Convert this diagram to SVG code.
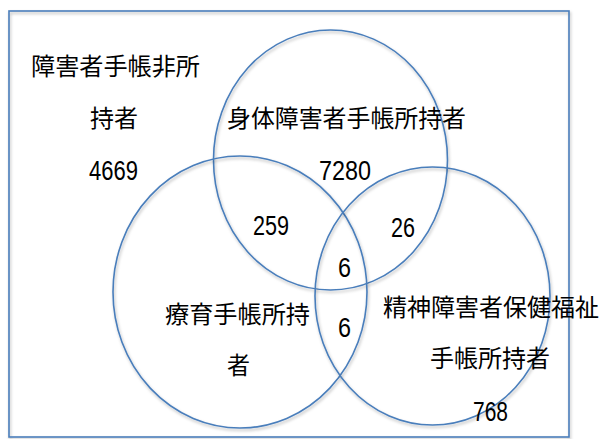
<svg xmlns="http://www.w3.org/2000/svg" width="602" height="439" viewBox="0 0 602 439">
  <defs>
    <filter id="sh" x="-10%" y="-10%" width="120%" height="120%">
      <feDropShadow dx="1" dy="2" stdDeviation="1.5" flood-color="#000" flood-opacity="0.28"/>
    </filter>
  </defs>
  <style>
    .ln { fill: none; stroke: #4a7ebb; stroke-width: 1.6; filter: url(#sh); }
    .jp { font-family: "Noto Sans CJK JP", "Noto Sans CJK SC", sans-serif; font-size: 24px; fill: #000; }
    .num { font-family: "Liberation Sans", Arial, sans-serif; font-size: 28px; fill: #000; }
  </style>
  <rect width="602" height="439" fill="#fff"/>
  <g id="non-holders">
    <rect class="ln" x="9" y="11" width="560" height="426"/>
    <text class="jp" x="31" y="75" textLength="169" lengthAdjust="spacingAndGlyphs">障害者手帳非所</text>
    <text class="jp" x="90" y="127" textLength="48" lengthAdjust="spacingAndGlyphs">持者</text>
    <text class="num" x="89" y="180" textLength="49" lengthAdjust="spacingAndGlyphs">4669</text>
  </g>
  <g id="physical">
    <ellipse class="ln" cx="330.5" cy="160" rx="117" ry="130"/>
    <text class="jp" x="227" y="127" textLength="239" lengthAdjust="spacingAndGlyphs">身体障害者手帳所持者</text>
    <text class="num" x="319" y="180" textLength="52" lengthAdjust="spacingAndGlyphs">7280</text>
  </g>
  <g id="ryoiku">
    <ellipse class="ln" cx="240" cy="292" rx="127" ry="136"/>
    <text class="jp" x="165" y="323" textLength="145" lengthAdjust="spacingAndGlyphs">療育手帳所持</text>
    <text class="jp" x="227" y="374" textLength="23" lengthAdjust="spacingAndGlyphs">者</text>
  </g>
  <g id="mental">
    <ellipse class="ln" cx="432.5" cy="296" rx="117.5" ry="129"/>
    <text class="jp" x="383" y="316" textLength="216" lengthAdjust="spacingAndGlyphs">精神障害者保健福祉</text>
    <text class="jp" x="430" y="367" textLength="120" lengthAdjust="spacingAndGlyphs">手帳所持者</text>
    <text class="num" x="473" y="421" textLength="35" lengthAdjust="spacingAndGlyphs">768</text>
  </g>
  <g id="overlaps">
    <text class="num" x="253" y="235" textLength="36" lengthAdjust="spacingAndGlyphs">259</text>
    <text class="num" x="391" y="237" textLength="24" lengthAdjust="spacingAndGlyphs">26</text>
    <text class="num" x="338" y="277" textLength="13" lengthAdjust="spacingAndGlyphs">6</text>
    <text class="num" x="338" y="337" textLength="13" lengthAdjust="spacingAndGlyphs">6</text>
  </g>
</svg>
